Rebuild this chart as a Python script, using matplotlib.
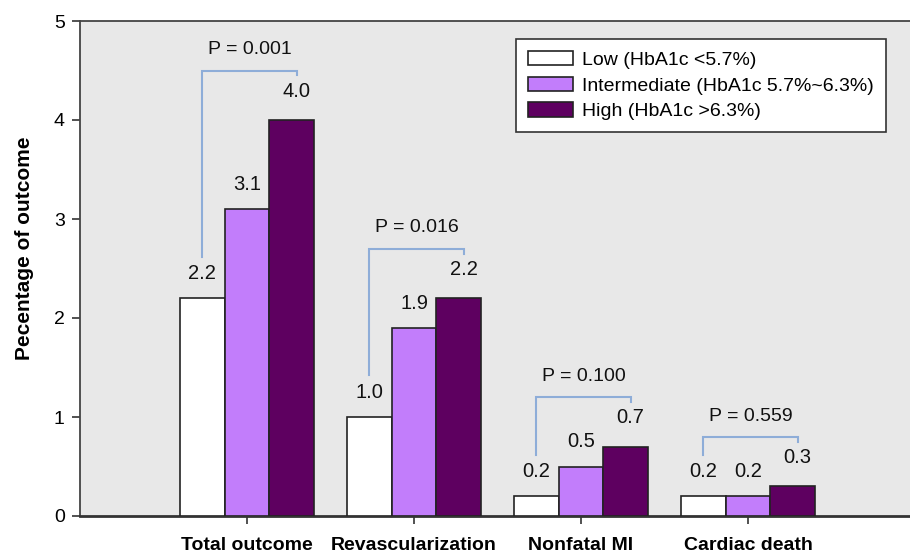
import numpy as np
import matplotlib
matplotlib.use("Agg")
import matplotlib.pyplot as plt

plt.rcParams['font.family'] = ['Liberation Sans', 'DejaVu Sans']

categories = ["Total outcome", "Revascularization", "Nonfatal MI", "Cardiac death"]
groups = ["Low (HbA1c <5.7%)", "Intermediate (HbA1c 5.7%~6.3%)", "High (HbA1c >6.3%)"]
low = [2.2, 1.0, 0.2, 0.2]
intermediate = [3.1, 1.9, 0.5, 0.2]
high = [4.0, 2.2, 0.7, 0.3]
p_values = ["0.001", "0.016", "0.100", "0.559"]

colors = ["#ffffff", "#c27dfb", "#5e0060"]
bracket_color = "#8eadd8"

fig = plt.figure(figsize=(9.1, 5.55), dpi=100)
ax = fig.add_axes([80 / 910, 39 / 555, 835 / 910, 495 / 555])
ax.set_facecolor("#e8e8e8")

x = np.arange(len(categories))
w = 0.267
series = [low, intermediate, high]
label_dy = [0.25, 0.25, 0.29]
label_dx = [0.0, 0.0, 0.03]
for k, vals in enumerate(series):
    pos = x + (k - 1) * w
    ax.bar(pos, vals, width=w, color=colors[k], edgecolor="#222222",
           linewidth=1.2, label=groups[k], zorder=3)
    for xi, v in zip(pos, vals):
        ax.text(xi + label_dx[k], v + label_dy[k], f"{v:.1f}", ha="center",
                va="center", fontsize=14.5, color="#111111", zorder=4)

# significance brackets from low to high group
for i in range(len(categories)):
    top = max(high[i], intermediate[i]) + 0.5
    leg = low[i] + 0.42
    x0 = x[i] - w
    x1 = x[i] + w + 0.03
    ax.plot([x0, x0, x1, x1], [leg, top, top, top - 0.05],
            color=bracket_color, lw=1.5, zorder=2, solid_joinstyle="miter")
    ax.text((x0 + x1) / 2, top + 0.21, f"P = {p_values[i]}", ha="center",
            va="center", fontsize=14, color="#111111")

ax.set_xlim(-1.0, 4.0)
ax.set_ylim(0, 5)
ax.set_yticks(range(6))
ax.set_xticks(x)
ax.set_xticklabels(categories, fontsize=14, fontweight="bold")
ax.tick_params(axis="y", labelsize=14, length=6, width=1.2, color="#333333", pad=5)
ax.tick_params(axis="x", length=6, width=1.2, color="#333333", pad=9)

ax.set_ylabel("Pecentage of outcome", fontsize=15, fontweight="bold")
ax.yaxis.set_label_coords(-0.055, 0.54)

for s in ["left", "top"]:
    ax.spines[s].set_color("#444444")
    ax.spines[s].set_linewidth(1.3)
ax.spines["bottom"].set_color("#333333")
ax.spines["bottom"].set_linewidth(2)
ax.spines["right"].set_visible(False)

leg = ax.legend(loc="upper right", bbox_to_anchor=(0.965, 0.963), fontsize=14,
                frameon=True, fancybox=False, edgecolor="#333333",
                handlelength=2.3, handleheight=0.75, labelspacing=0.4,
                borderpad=0.6, handletextpad=0.5, borderaxespad=0)
leg.get_frame().set_linewidth(1.2)
leg.get_frame().set_facecolor("white")
leg.get_frame().set_alpha(1)

fig.savefig("out.png", dpi=100)
